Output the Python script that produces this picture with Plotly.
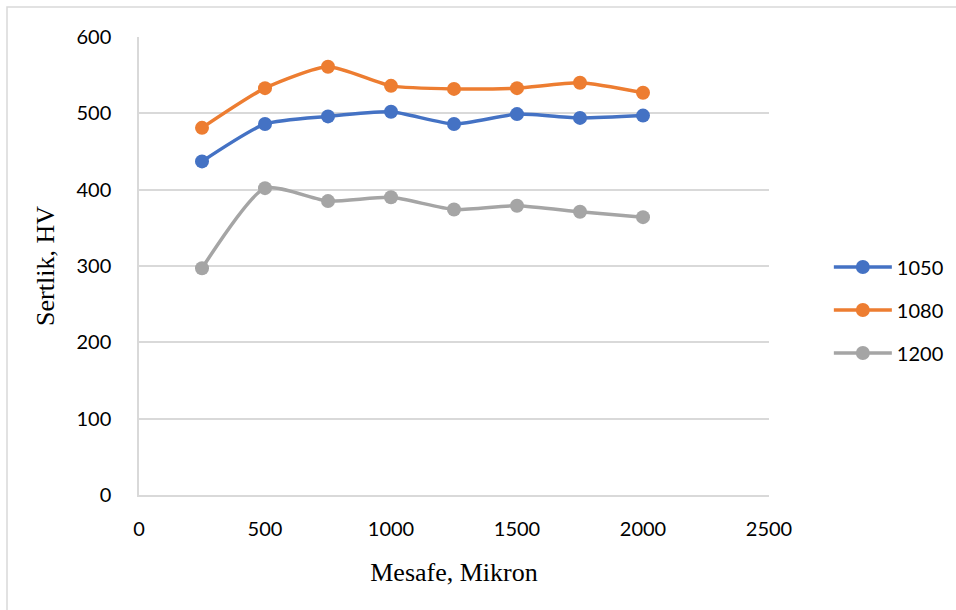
import plotly.graph_objects as go

distance = [250, 500, 750, 1000, 1250, 1500, 1750, 2000]
hv_1050 = [437, 486, 496, 502, 486, 499, 494, 497]
hv_1080 = [481, 533, 561, 536, 532, 533, 540, 527]
hv_1200 = [297, 402, 385, 390, 374, 379, 371, 364]

series = [("1050", hv_1050, "#4472C4"), ("1080", hv_1080, "#ED7D31"), ("1200", hv_1200, "#A5A5A5")]

fig = go.Figure()
for i, (name, vals, color) in enumerate(series):
    fig.add_trace(go.Scatter(
        x=distance, y=vals, name=name, mode="lines+markers",
        line=dict(color=color, width=3.5, shape="spline", smoothing=0.6),
        marker=dict(color=color, size=14),
        legendgroup=name,
    ))

serif = "Liberation Serif, Times New Roman, serif"
fig.update_layout(
    width=956, height=610,
    margin=dict(l=139, r=187, t=37, b=115, autoexpand=False),
    paper_bgcolor="white", plot_bgcolor="white",
    font=dict(family="Lato, Carlito, Calibri, sans-serif", size=20, color="#000"),
    showlegend=True,
    legend=dict(x=1.095, y=0.404, xanchor="left", yanchor="middle",
                traceorder="grouped", tracegroupgap=14,
                font=dict(size=20), itemwidth=58),
    xaxis=dict(range=[0, 2500], tick0=0, dtick=500, showgrid=False, zeroline=False,
               showline=True, linecolor="#D9D9D9", linewidth=1.5, ticks="",
               ticklabelstandoff=15,
               title=dict(text="Mesafe, Mikron", font=dict(family=serif, size=26), standoff=24)),
    yaxis=dict(range=[0, 600], tick0=0, dtick=100, showgrid=True, gridcolor="#D9D9D9", gridwidth=1.5,
               zeroline=False, showline=True, linecolor="#D9D9D9", linewidth=1.5, ticks="",
               ticklabelstandoff=22,
               title=dict(text="Sertlik, HV", font=dict(family=serif, size=26), standoff=14)),
)

fig.add_shape(type="rect", xref="paper", yref="paper",
              x0=-132/630, x1=1.5, y0=-0.5, y1=1 + 30/458,
              line=dict(color="#D9D9D9", width=1.5), layer="below")

fig.write_html("out.html")
